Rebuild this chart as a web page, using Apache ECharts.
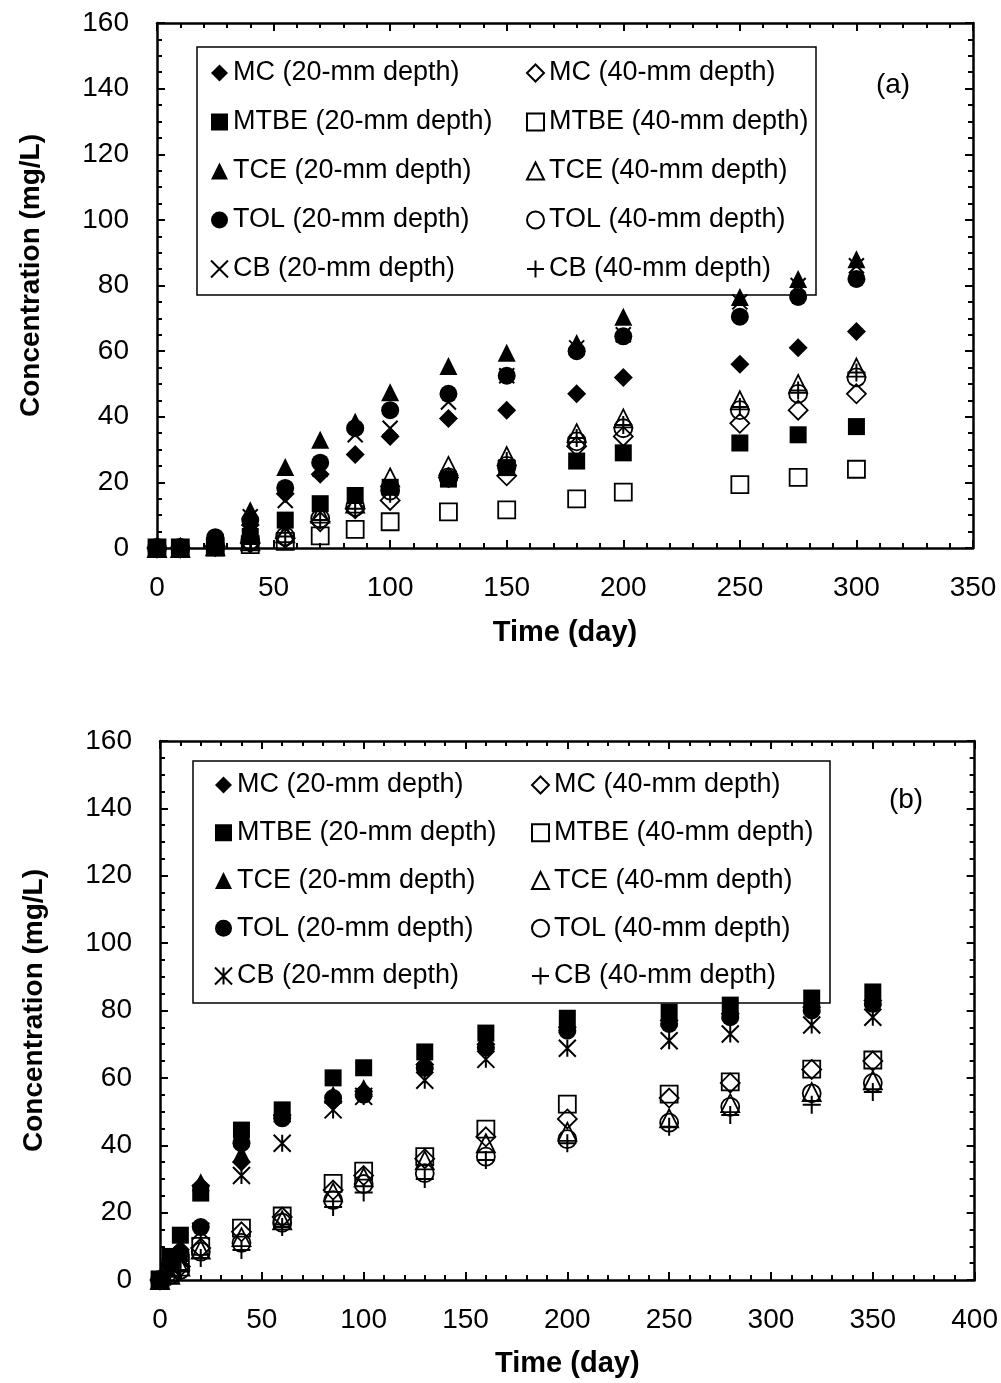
<!DOCTYPE html>
<html>
<head>
<meta charset="utf-8">
<script src="https://cdn.jsdelivr.net/npm/echarts/dist/echarts.min.js"></script>
<style>
  html, body { margin: 0; padding: 0; background: #fff; }
  #chart { width: 1001px; height: 1383px; }
</style>
</head>
<body>
<div id="chart"></div>
<script>
// ---- Panel (a): sampling times and concentrations (mg/L) ----
const timeA   = [0, 10, 25, 40, 55, 70, 85, 100, 125, 150, 180, 200, 250, 275, 300];
const mc20A   = [0, 0, 1, 7, 16.5, 22.5, 28.5, 34, 39.5, 42, 47, 52, 56, 61, 66];
const mc40A   = [0, 0, 0.5, 1.5, 3, 8, 12, 14.5, 21.5, 22, 31, 34, 38, 42, 47];
const mtbe20A = [0, 0, 0.5, 3.5, 8.5, 13.5, 16, 18.5, 21, 24.5, 26.5, 29, 32, 34.5, 37];
const mtbe40A = [0, 0, 0.3, 1, 2, 3.7, 5.7, 8, 11, 11.6, 15, 17, 19.3, 21.5, 24];
const tce20A  = [0, 0.3, 1.5, 11.5, 24.7, 33, 38.5, 47.5, 55.5, 59.5, 62.5, 70.5, 76.5, 82, 88];
const tce40A  = [0, 0, 0.5, 2, 4.5, 10.5, 13.5, 21.5, 25, 28, 35, 39.5, 45, 50, 55];
const tol20A  = [0, 0, 3.3, 8.5, 18.3, 26, 36.5, 42, 47, 52.5, 60, 64.5, 70.5, 76.5, 82];
const tol40A  = [0, 0, 0.5, 2, 3.5, 9, 12.5, 17.5, 21.5, 25, 32.5, 36.5, 42, 47, 52];
const cb20A   = [0, 0, 1.5, 9.5, 14.5, 24, 34.5, 36.5, 44.5, 52.5, 61, 65, 75, 80, 86];
const cb40A   = [0, 0, 0.5, 1.5, 3.5, 8.5, 12, 16.5, 21.5, 26.5, 33.5, 37.5, 43, 48, 53.5];

// ---- Panel (b): sampling times and concentrations (mg/L) ----
const timeB   = [0, 5, 10, 20, 40, 60, 85, 100, 130, 160, 200, 250, 280, 320, 350];
const mc20B   = [0, 5, 9, 28, 35, 49, 53, 56, 64, 70, 75, 77, 79, 81, 83];
const mc40B   = [0, 2, 4, 9.5, 14.3, 18.7, 26.7, 31, 36, 42.5, 47.8, 54, 58.5, 62.5, 65];
const mtbe20B = [0, 7, 13.3, 25.8, 44.5, 50.5, 60, 63, 67.7, 73.3, 77.7, 79.5, 81.6, 83.7, 85.5];
const mtbe40B = [0, 2, 5, 10, 15.4, 19, 28.7, 32.3, 36.6, 44.8, 52.2, 55.2, 58.8, 62.6, 65.3];
const tce20B  = [0, 6, 8, 29, 37.5, 49.5, 55, 57, 65, 71, 76, 78, 80, 82, 84];
const tce40B  = [0, 1.5, 4, 9, 12.7, 17.7, 26, 30.5, 35.5, 40.6, 44, 48, 52.5, 55.8, 59.3];
const tol20B  = [0, 5, 8, 15.7, 40.6, 48, 54, 55, 63, 69, 74, 76, 78, 80, 82];
const tol40B  = [0, 1.5, 3, 8.4, 11, 17, 23.7, 28.5, 31.7, 36.6, 41.8, 46.7, 51.4, 55.4, 58.5];
const cb20B   = [0, 4, 6, 14.5, 31, 40.6, 50.5, 54.5, 59.3, 65.5, 68.8, 71, 73, 75.7, 78];
const cb40B   = [0, 1, 3, 6.5, 8.9, 15.7, 21.7, 26, 30, 35.6, 40.6, 45.5, 49, 52, 55.8];

// ---- Series names (legend text) ----
const names = [
  'MC (20-mm depth)', 'MC (40-mm depth)',
  'MTBE (20-mm depth)', 'MTBE (40-mm depth)',
  'TCE (20-mm depth)', 'TCE (40-mm depth)',
  'TOL (20-mm depth)', 'TOL (40-mm depth)',
  'CB (20-mm depth)', 'CB (40-mm depth)'
];

// ---- Marker shapes ----
const CROSS = 'path://M0,0L10,10M10,0L0,10';
const PLUS = 'path://M5,0L5,10M0,5L10,5';
const STAR = 'path://M0,0L10,10M10,0L0,10M5,0L5,10';

const FONT = '"Liberation Sans", Arial, Helvetica, sans-serif';

// marker style per series: [symbol, size, kind]  kind: fill | open | stroke
const styleA = [
  ['diamond', 19, 'fill'], ['diamond', 19, 'open'],
  ['rect', 17, 'fill'], ['rect', 17, 'open'],
  ['triangle', 18, 'fill'], ['triangle', 18, 'open'],
  ['circle', 18, 'fill'], ['circle', 18, 'open'],
  [CROSS, 15, 'stroke'], [PLUS, 18, 'stroke']
];
const styleB = styleA.map((s, i) => i === 8 ? [STAR, 17, 'stroke'] : s);

function itemStyleOf(kind) {
  if (kind === 'fill') return { color: '#000', opacity: 1 };
  if (kind === 'open') return { color: 'rgba(0,0,0,0)', borderColor: '#000', borderWidth: 1.8, opacity: 1 };
  return { color: '#000', borderColor: '#000', borderWidth: 2, opacity: 1 };
}

function makeSeries(times, valueSets, styles, xIdx, yIdx) {
  return valueSets.map((vals, i) => ({
    type: 'scatter',
    name: names[i],
    xAxisIndex: xIdx,
    yAxisIndex: yIdx,
    data: times.map((t, k) => [t, vals[k]]),
    symbol: styles[i][0],
    symbolSize: styles[i][1],
    itemStyle: itemStyleOf(styles[i][2]),
    clip: false,
    silent: true,
    emphasis: { disabled: true },
    z: 3
  }));
}

const seriesA = makeSeries(timeA,
  [mc20A, mc40A, mtbe20A, mtbe40A, tce20A, tce40A, tol20A, tol40A, cb20A, cb40A], styleA, 0, 0);
const seriesB = makeSeries(timeB,
  [mc20B, mc40B, mtbe20B, mtbe40B, tce20B, tce40B, tol20B, tol40B, cb20B, cb40B], styleB, 2, 2);

// ---- Axes ----
const lineStyle = { color: '#000', width: 2.5 };
function xAxis(grid, max, pos, labels, withName, nameGap) {
  return {
    type: 'value', gridIndex: grid, position: pos, min: 0, max: max, interval: 50,
    axisLine: { show: true, onZero: false, lineStyle },
    axisTick: { show: true, inside: true, length: 8, lineStyle: { color: '#000', width: 2 } },
    minorTick: { show: true, splitNumber: 5, length: 5, lineStyle: { color: '#000', width: 2 } },
    splitLine: { show: false },
    axisLabel: { show: labels, color: '#000', fontSize: 28, fontFamily: FONT, margin: 26 },
    name: withName ? 'Time (day)' : '',
    nameLocation: 'middle', nameGap: nameGap,
    nameTextStyle: { color: '#000', fontSize: 29, fontWeight: 'bold', fontFamily: FONT }
  };
}
function yAxis(grid, pos, labels, withName, namePad) {
  return {
    type: 'value', gridIndex: grid, position: pos, min: 0, max: 160, interval: 20,
    axisLine: { show: true, onZero: false, lineStyle },
    axisTick: { show: true, inside: true, length: 8, lineStyle: { color: '#000', width: 2 } },
    minorTick: { show: true, splitNumber: 4, length: 5, lineStyle: { color: '#000', width: 2 } },
    splitLine: { show: false },
    axisLabel: { show: labels, color: '#000', fontSize: 28, fontFamily: FONT, margin: 28 },
    name: withName ? 'Concentration (mg/L)' : '',
    nameLocation: 'middle', nameGap: 112, nameRotate: 90,
    nameTextStyle: { color: '#000', fontSize: 28, fontWeight: 'bold', fontFamily: FONT,
                     padding: [0, 0, 0, namePad || 0] }
  };
}

// ---- Legends (two columns per panel) ----
function legendCol(left, top, gap, items) {
  return {
    left: left, top: top, orient: 'vertical', padding: 0,
    itemWidth: 17, itemHeight: 17, itemGap: gap,
    selectedMode: false,
    textStyle: { color: '#000', fontSize: 27, fontFamily: FONT, lineHeight: 27, padding: [0, 0, 0, 0] },
    data: items
  };
}
const legA1 = [
  { name: names[0], icon: 'diamond' }, { name: names[2], icon: 'rect' },
  { name: names[4], icon: 'triangle' }, { name: names[6], icon: 'circle' },
  { name: names[8], icon: CROSS }
];
const legA2 = [
  { name: names[1], icon: 'diamond' }, { name: names[3], icon: 'rect' },
  { name: names[5], icon: 'triangle' }, { name: names[7], icon: 'circle' },
  { name: names[9], icon: PLUS }
];
const legB1 = legA1.map((d, i) => i === 4 ? { name: d.name, icon: STAR } : d);
const legB2 = legA2;

const option = {
  backgroundColor: '#fff',
  animation: false,
  grid: [
    { left: 157, top: 23, width: 816, height: 525 },
    { left: 160, top: 741, width: 816, height: 539 }
  ],
  xAxis: [
    xAxis(0, 350, 'bottom', true, true, 70),
    xAxis(0, 350, 'top', false, false, 0),
    xAxis(1, 400, 'bottom', true, true, 69),
    xAxis(1, 400, 'top', false, false, 0)
  ],
  yAxis: [
    yAxis(0, 'left', true, true, 20),
    yAxis(0, 'right', false, false),
    yAxis(1, 'left', true, true, 0),
    yAxis(1, 'right', false, false)
  ],
  legend: [
    legendCol(210, 59.5, 22, legA1),
    legendCol(526, 59.5, 22, legA2),
    legendCol(214, 771.5, 20.75, legB1),
    legendCol(531, 771.5, 20.75, legB2)
  ],
  graphic: [
    { type: 'rect', z: 0, silent: true, shape: { x: 197, y: 47, width: 619, height: 248 },
      style: { fill: 'none', stroke: '#000', lineWidth: 1.5 } },
    { type: 'rect', z: 0, silent: true, shape: { x: 193, y: 761, width: 637, height: 242 },
      style: { fill: 'none', stroke: '#000', lineWidth: 1.5 } },
    { type: 'text', z: 5, silent: true, x: 893, y: 85,
      style: { text: '(a)', fill: '#000', font: '28px ' + FONT, textAlign: 'center', textVerticalAlign: 'middle' } },
    { type: 'text', z: 5, silent: true, x: 906, y: 800,
      style: { text: '(b)', fill: '#000', font: '28px ' + FONT, textAlign: 'center', textVerticalAlign: 'middle' } }
  ],
  series: seriesA.concat(seriesB)
};

const chart = echarts.init(document.getElementById('chart'), null, { renderer: 'canvas' });
chart.setOption(option);
</script>
</body>
</html>
